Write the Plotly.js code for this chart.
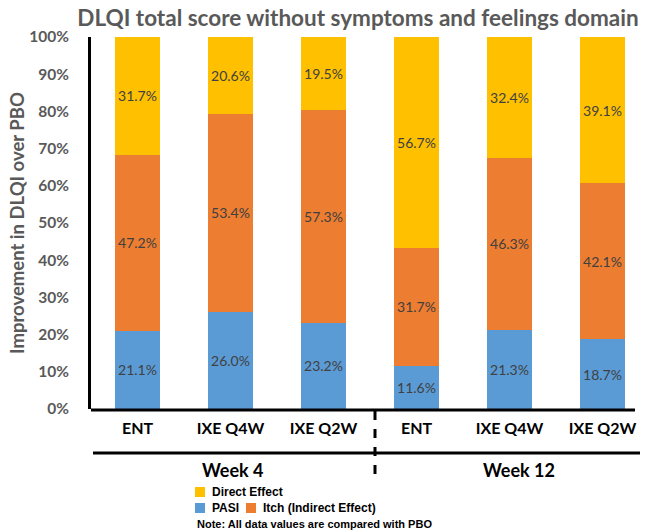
<!DOCTYPE html>
<html>
<head>
<meta charset="utf-8">
<script src="https://cdn.plot.ly/plotly-3.0.1.min.js"></script>
<style>
  html, body { margin: 0; padding: 0; background: #ffffff; }
  #chart { width: 649px; height: 530px; }
</style>
</head>
<body>
<div id="chart"></div>
<script>
// ---- data ----
const categories = ["ENT", "IXE Q4W", "IXE Q2W", "ENT", "IXE Q4W", "IXE Q2W"];
const groups = ["Week 4", "Week 12"];
const pasi = [21.1, 26.0, 23.2, 11.6, 21.3, 18.7];
const itch = [47.2, 53.4, 57.3, 31.7, 46.3, 42.1];
const direct = [31.7, 20.6, 19.5, 56.7, 32.4, 39.1];
const seriesNames = ["PASI", "Itch (Indirect Effect)", "Direct Effect"];
const seriesColors = ["#5B9BD5", "#ED7D31", "#FFC000"];
const yTicks = [0, 10, 20, 30, 40, 50, 60, 70, 80, 90, 100];
const noteText = "Note: All data values are compared with PBO";

// ---- layout helpers (pixel -> paper) ----
const W = 649, H = 530, ML = 91, MR = 0, MT = 37, MB = 121;
const PW = W - ML - MR, PH = H - MT - MB;
const px = x => (x - ML) / PW;
const py = y => (H - MB - y) / PH;

const xIdx = categories.map((_, i) => i);
const fmt = v => v.toFixed(1) + "%";

const seriesVals = [pasi, itch, direct];
const traces = seriesVals.map((vals, k) => ({
  type: "bar",
  name: seriesNames[k],
  x: xIdx,
  y: vals,
  text: vals.map(fmt),
  textposition: "inside",
  insidetextanchor: "middle",
  textangle: 0,
  constraintext: "none",
  textfont: { family: "Lato, sans-serif", size: 14, color: "#404040" },
  marker: { color: seriesColors[k], line: { width: 0 } },
  hoverinfo: "skip",
  showlegend: false
}));

const shapes = [
  // x-axis baseline
  { type: "line", xref: "paper", yref: "paper", x0: 0, x1: px(635), y0: py(410), y1: py(410),
    line: { color: "#000000", width: 3 } },
  // group separator line
  { type: "line", xref: "paper", yref: "paper", x0: px(93), x1: px(640), y0: py(453), y1: py(453),
    line: { color: "#000000", width: 3 } },
  // dashed divider between weeks
  { type: "line", xref: "paper", yref: "paper", x0: px(375), x1: px(375), y0: py(411), y1: py(483),
    line: { color: "#000000", width: 3, dash: "dash" } }
];

const annotations = [
  { text: groups[0], xref: "paper", yref: "paper", x: px(232), y: py(470), showarrow: false,
    xanchor: "center", yanchor: "middle",
    font: { family: "Lato, sans-serif", size: 18, color: "#000000", weight: "bold" } },
  { text: groups[1], xref: "paper", yref: "paper", x: px(519), y: py(470), showarrow: false,
    xanchor: "center", yanchor: "middle",
    font: { family: "Lato, sans-serif", size: 18, color: "#000000", weight: "bold" } }
];

// custom legend (two rows + note)
const legendItems = [
  { k: 2, sx: 195, tx: 210, cy: 492 },
  { k: 0, sx: 195, tx: 210, cy: 508 },
  { k: 1, sx: 246, tx: 261, cy: 508 }
];
legendItems.forEach(it => {
  shapes.push({ type: "rect", xref: "paper", yref: "paper",
    x0: px(it.sx), x1: px(it.sx + 10), y0: py(it.cy + 5), y1: py(it.cy - 5),
    fillcolor: seriesColors[it.k], line: { width: 0 } });
  annotations.push({ text: seriesNames[it.k], xref: "paper", yref: "paper",
    x: px(it.tx), y: py(it.cy), showarrow: false, xanchor: "left", yanchor: "middle",
    font: { family: "Liberation Sans, Arial, sans-serif", size: 12, color: "#000000", weight: "bold" } });
});
annotations.push({ text: noteText, xref: "paper", yref: "paper",
  x: px(195), y: py(524), showarrow: false, xanchor: "left", yanchor: "middle",
  font: { family: "Liberation Sans, Arial, sans-serif", size: 11, color: "#000000", weight: "bold" } });

const layout = {
  width: W, height: H,
  margin: { l: ML, r: MR, t: MT, b: MB, pad: 0 },
  paper_bgcolor: "#ffffff",
  plot_bgcolor: "#ffffff",
  barmode: "stack",
  bargap: 0.516,
  showlegend: false,
  title: {
    text: "DLQI total score without symptoms and feelings domain",
    x: 358 / W, xanchor: "center", xref: "container",
    y: 1 - 18 / H, yanchor: "middle", yref: "container",
    font: { family: "Lato, sans-serif", size: 22.5, color: "#595959", weight: "bold" }
  },
  xaxis: {
    range: [-0.5, 5.5],
    tickmode: "array",
    tickvals: xIdx,
    ticktext: categories,
    ticks: "",
    showline: false,
    showgrid: false,
    zeroline: false,
    fixedrange: true,
    ticklabelstandoff: 8,
    tickfont: { family: "Lato, sans-serif", size: 16, color: "#000000", weight: "bold" }
  },
  yaxis: {
    range: [0, 100],
    tickmode: "array",
    tickvals: yTicks,
    ticktext: yTicks.map(v => v + "%"),
    ticks: "",
    showline: true,
    linecolor: "#000000",
    linewidth: 3,
    showgrid: false,
    zeroline: false,
    fixedrange: true,
    ticklabelstandoff: 16,
    tickfont: { family: "Lato, sans-serif", size: 15.5, color: "#595959", weight: "bold" },
    title: {
      text: "Improvement in DLQI over PBO",
      standoff: 0,
      font: { family: "Lato, sans-serif", size: 18.5, color: "#595959", weight: "bold" }
    }
  },
  shapes: shapes,
  annotations: annotations
};

Plotly.newPlot("chart", traces, layout, { displayModeBar: false, staticPlot: true });
</script>
</body>
</html>
